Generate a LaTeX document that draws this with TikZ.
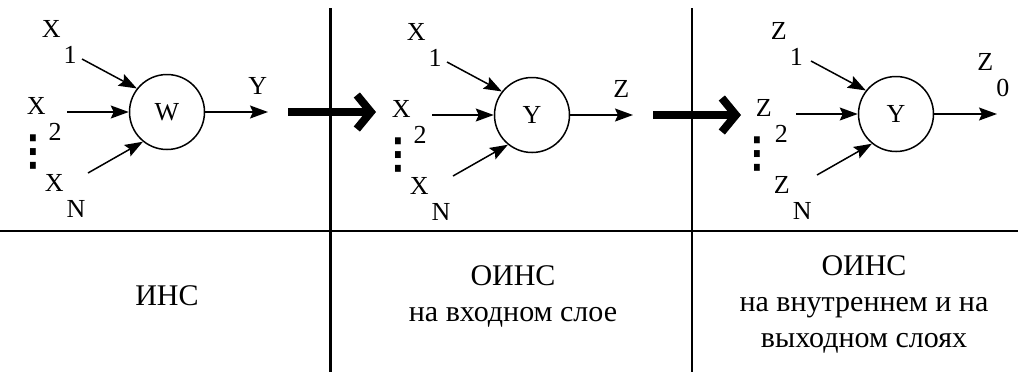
\documentclass[tikz,border=0pt]{standalone}
\usepackage{fontspec}
\setmainfont{Liberation Serif}
\newfontfamily\symfont{DejaVu Sans}
\usetikzlibrary{arrows.meta}

% letter with a lowered index, e.g. X_1
\newcommand{\sublab}[2]{#1\kern1.5pt\raisebox{-13pt}{#2}}

\tikzset{
  cell/.style={draw, circle, line width=0.75pt, minimum size=37.5pt,
    inner sep=0pt, font=\fontsize{13}{15}\selectfont},
  lab/.style={inner sep=0pt, font=\fontsize{13}{15}\selectfont},
  inarr/.style={line width=0.75pt, -{Stealth[length=9pt,width=6.5pt,inset=1.5pt]}},
  bigarr/.style={line width=4pt, -{Straight Barb[length=7pt,width=17pt]}},
  caption/.style={align=center, font=\fontsize{15}{18}\selectfont},
  divider/.style={line width=1.2pt}
}

\begin{document}
\begin{tikzpicture}[x=0.5pt, y=-0.5pt]
  \useasboundingbox (0,0) rectangle (1018,372);

  % table lines
  \draw[divider] (0,231) -- (1018,231);
  \draw[line width=1.5pt] (330,8) -- (330,372);
  \draw[line width=0.7pt] (692,8) -- (692,372);

  % one neuron per column
  \foreach \cx/\cy/\inp/\w/\outp/\dx [count=\i] in
      {167/112/X/W/Y/134, 532/115/X/Y/Z/134, 896/114/Z/Y/{\sublab{Z}{0}}/139} {
    \node[cell] (n\i) at (\cx,\cy) {\w};
    \node[lab, anchor=base west] (a\i) at (\cx-125.5,\cy-74.5) {\sublab{\inp}{1}};
    \node[lab, anchor=base west] (b\i) at (\cx-140.5,\cy+2.5) {\sublab{\inp}{2}};
    \node[lab, anchor=base west] (c\i) at (\cx-122.5,\cy+79.5) {\sublab{\inp}{N}};
    \node[lab, font=\symfont\fontsize{28}{28}\selectfont] (d\i) at (\cx-\dx,\cy+41) {⁝};
    \coordinate (s\i-1) at (\cx-85,\cy-53);
    \coordinate (s\i-2) at (\cx-100,\cy);
    \coordinate (s\i-3) at (\cx-79,\cy+61);
    \draw[inarr] (s\i-1) -- (n\i.142);
    \draw[inarr] (s\i-2) -- (n\i.west);
    \draw[inarr] (s\i-3) -- (n\i.231);
    % output
    \coordinate (o\i) at (\cx+101,\cy);
    \draw[inarr] (n\i) -- (o\i);
    \node[lab, anchor=south west] (y\i) at (\cx+81,\cy-17) {\outp};
    \ifnum\i<3
      \draw[bigarr] ([xshift=10pt]o\i) -- ++(88,0);
    \fi
  }

  % captions
  \node[caption] (t1) at (167,296) {ИНС};
  \node[caption] (t2) at (513,296) {ОИНС\\на входном слое};
  \node[caption] (t3) at (864,304) {ОИНС\\на внутреннем и на\\выходном слоях};
\end{tikzpicture}
\end{document}
